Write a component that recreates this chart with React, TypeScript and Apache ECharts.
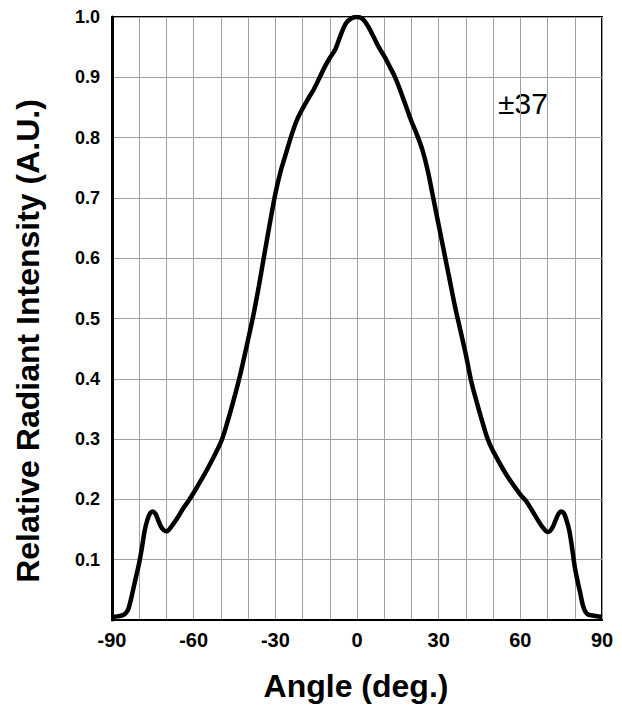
import React, { useEffect, useRef } from "react";
import * as echarts from "echarts";

const angles = [
  -90, -88, -86, -85, -84, -83, -82, -81, -80, -79, -78, -77, -76, -75, -74, -73, -72, -71, -70,
  -68, -66, -64, -62, -60, -55, -50, -48, -45, -43, -40, -38, -36, -34, -32, -30, -28, -26, -24,
  -22, -20, -18, -16, -14, -12, -10, -8, -6, -4, -2, 0, 2, 4, 6, 8, 10, 12, 14, 16, 18, 20, 22,
  24, 26, 28, 30, 32, 34, 36, 38, 40, 42, 45, 48, 50, 55, 60, 62, 64, 66, 68, 70, 71, 72, 73, 74,
  75, 76, 77, 78, 79, 80, 81, 82, 83, 84, 85, 87, 90,
];
const intensity = [
  0.005, 0.006, 0.008, 0.011, 0.018, 0.035, 0.055, 0.075, 0.095, 0.12, 0.148, 0.166, 0.177, 0.18,
  0.176, 0.165, 0.155, 0.149, 0.147, 0.156, 0.169, 0.184, 0.197, 0.211, 0.25, 0.295, 0.322, 0.37,
  0.405, 0.465, 0.507, 0.555, 0.607, 0.658, 0.707, 0.745, 0.775, 0.805, 0.83, 0.848, 0.864, 0.879,
  0.897, 0.916, 0.932, 0.946, 0.97, 0.99, 0.998, 1.0, 0.997, 0.985, 0.968, 0.95, 0.935, 0.918,
  0.9, 0.877, 0.852, 0.827, 0.805, 0.78, 0.745, 0.7, 0.655, 0.61, 0.565, 0.52, 0.48, 0.44, 0.395,
  0.345, 0.3, 0.28, 0.24, 0.208, 0.198, 0.184, 0.169, 0.155, 0.146, 0.148, 0.155, 0.166, 0.176,
  0.18, 0.177, 0.165, 0.148, 0.12, 0.088, 0.065, 0.045, 0.024, 0.013, 0.009, 0.007, 0.005,
];
const xTickLabels = ["-90", "-60", "-30", "0", "30", "60", "90"];
const yTickLabels = ["", "0.1", "0.2", "0.3", "0.4", "0.5", "0.6", "0.7", "0.8", "0.9", "1.0"];

export default function App() {
  const ref = useRef<HTMLDivElement>(null);
  useEffect(() => {
    if (!ref.current) return;
    const chart = echarts.init(ref.current, null, { renderer: "svg" });
    const font = "'Liberation Sans', Arial, sans-serif";
    chart.setOption({
      animation: false,
      grid: {
        left: 104,
        right: 20,
        top: 7,
        bottom: 89,
        show: true,
        borderColor: "#000",
        borderWidth: 2,
        backgroundColor: "transparent",
      },
      xAxis: {
        type: "value",
        min: -90,
        max: 90,
        interval: 10,
        axisLine: { show: true, onZero: false, lineStyle: { color: "#000", width: 2 } },
        axisTick: { show: false },
        splitLine: { show: true, lineStyle: { color: "#a0a0a0", width: 1 } },
        axisLabel: {
          fontFamily: font,
          fontWeight: "bold",
          fontSize: 20,
          color: "#000",
          margin: 10,
          formatter: (v: number) => (xTickLabels.includes(String(v)) ? String(v) : ""),
        },
      },
      yAxis: {
        type: "value",
        min: 0,
        max: 1,
        interval: 0.1,
        axisLine: { show: true, onZero: false, lineStyle: { color: "#000", width: 3 } },
        axisTick: { show: false },
        splitLine: { show: true, lineStyle: { color: "#a0a0a0", width: 1 } },
        axisLabel: {
          fontFamily: font,
          fontWeight: "bold",
          fontSize: 18,
          color: "#000",
          margin: 12,
          formatter: (v: number) => yTickLabels[Math.round(v * 10)] ?? "",
        },
      },
      graphic: [
        {
          type: "text",
          x: 490,
          y: 95,
          style: {
            text: "±37",
            fontFamily: font,
            fontSize: 30,
            fill: "#000",
            textVerticalAlign: "middle",
          },
        },
        {
          type: "text",
          x: 348,
          y: 678,
          style: {
            text: "Angle (deg.)",
            fontFamily: font,
            fontWeight: "bold",
            fontSize: 32,
            fill: "#000",
            textAlign: "center",
            textVerticalAlign: "middle",
          },
        },
        {
          type: "text",
          x: 20,
          y: 333,
          rotation: Math.PI / 2,
          style: {
            text: "Relative Radiant Intensity (A.U.)",
            fontFamily: font,
            fontWeight: "bold",
            fontSize: 32,
            fill: "#000",
            textAlign: "center",
            textVerticalAlign: "middle",
          },
        },
      ],
      series: [
        {
          type: "line",
          data: angles.map((a, i) => [a, intensity[i]]),
          smooth: 0.3,
          showSymbol: false,
          lineStyle: { color: "#000", width: 4.5 },
        },
      ],
    });
    return () => chart.dispose();
  }, []);
  return <div ref={ref} style={{ width: 614, height: 701 }} />;
}
